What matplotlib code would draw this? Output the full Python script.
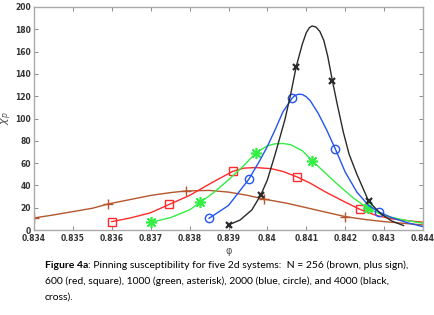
import matplotlib
matplotlib.use("Agg")
import matplotlib.pyplot as plt

# ----------- datos -----------
# N = 256 (marron, +)
x256 = [0.834, 0.8345, 0.835, 0.8355, 0.8359, 0.8365, 0.837, 0.8375, 0.8379, 0.8385,
        0.839, 0.8395, 0.8399, 0.8405, 0.841, 0.8415, 0.842, 0.8425, 0.843, 0.8435, 0.844]
y256 = [10.8, 13.5, 16.5, 19.5, 23.3, 27.5, 31, 33.5, 35, 35.5,
        34, 31, 27.8, 24, 20, 16, 12, 9.5, 7.5, 6, 4.5]
mx256 = [0.834, 0.8359, 0.8379, 0.8399, 0.8420]
my256 = [10.8, 23.3, 35, 27.8, 12]

# N = 600 (rojo, cuadrado)
x600 = [0.836, 0.8365, 0.837, 0.83748, 0.838, 0.8383, 0.8386, 0.83911, 0.8394, 0.8397,
        0.8401, 0.8404, 0.84075, 0.8411, 0.8415, 0.842, 0.84238, 0.8428, 0.8432, 0.8437, 0.844]
y600 = [7.5, 11, 15.5, 23, 31, 37, 43, 52.6, 55.5, 56,
        55, 52.5, 47.8, 42, 34, 25, 18.5, 13, 10, 8, 7]
mx600 = [0.8360, 0.83748, 0.83911, 0.84075, 0.84238]
my600 = [7.5, 23, 52.6, 47.8, 18.5]

# N = 1000 (verde, asterisco)
x1000 = [0.837, 0.8375, 0.838, 0.83828, 0.8386, 0.839, 0.8394, 0.83971, 0.840, 0.8402,
         0.8404, 0.8406, 0.8409, 0.84115, 0.8414, 0.8418, 0.8422, 0.84258, 0.843, 0.8435, 0.844]
y1000 = [6.9, 11, 18, 25, 33, 45, 58, 69.4, 75.5, 77.3,
         77.6, 76.5, 71, 62.2, 54, 41, 29, 19.4, 13, 9, 6]
mx1000 = [0.8370, 0.83828, 0.83971, 0.84115, 0.84258]
my1000 = [6.9, 25, 69.4, 62.2, 19.4]

# N = 2000 (azul, circulo)
x2000 = [0.8385, 0.839, 0.83952, 0.8398, 0.840, 0.8402, 0.8404, 0.84063, 0.8407, 0.8408,
         0.8409, 0.841, 0.8411, 0.8413, 0.84152, 0.84175, 0.842, 0.8423, 0.8426, 0.84288,
         0.8432, 0.8436, 0.844]
y2000 = [10.5, 22, 45.4, 62, 75, 90, 106, 118, 120.5, 121.8,
         121.5, 119.5, 116, 105, 90, 72.4, 52, 34, 22, 16,
         11, 6.5, 3]
mx2000 = [0.8385, 0.83952, 0.84063, 0.84175, 0.84288]
my2000 = [10.5, 45.4, 118, 72.4, 16]

# N = 4000 (negro, cruz)
x4000 = [0.839, 0.8393, 0.8396, 0.83983, 0.8400, 0.8402, 0.84045, 0.8406, 0.84074, 0.8409,
         0.841, 0.84108, 0.84115, 0.84125, 0.84135, 0.84145, 0.84155, 0.84167, 0.8418, 0.84195,
         0.8421, 0.8423, 0.8426, 0.8429, 0.8432, 0.8435]
y4000 = [4.5, 9, 18, 31.4, 45, 68, 99, 122, 146.5, 167,
         177, 181.5, 183, 182, 178, 170, 156, 134, 112, 88,
         68, 50, 26, 15, 8, 4]
mx4000 = [0.8390, 0.83983, 0.84074, 0.84167, 0.8426]
my4000 = [4.5, 31.4, 146.5, 134, 26]

xticks = [0.834, 0.835, 0.836, 0.837, 0.838, 0.839, 0.840, 0.841, 0.842, 0.843, 0.844]
xticklabels = ["0.834", "0.835", "0.836", "0.837", "0.838", "0.839", "0.84",
               "0.841", "0.842", "0.843", "0.844"]
yticks = list(range(0, 201, 20))

caption_bold = "Figure 4a"
caption_rest = [": Pinning susceptibility for five 2d systems:  N = 256 (brown, plus sign),",
                "600 (red, square), 1000 (green, asterisk), 2000 (blue, circle), and 4000 (black,",
                "cross)."]

# ----------- figura -----------
fig = plt.figure(figsize=(4.34, 3.15), dpi=100)
ax = fig.add_axes([34 / 434, 1 - 230 / 315, 389 / 434, 223 / 315])

series = [
    (x256, y256, mx256, my256, "#b5562c", "+", 7, 1.0),
    (x600, y600, mx600, my600, "#ff2a2a", "s", 5.5, 1.0),
    (x1000, y1000, mx1000, my1000, "#33ee44", (8, 2, 0), 8, 1.2),
    (x2000, y2000, mx2000, my2000, "#2255ee", "o", 6, 1.0),
    (x4000, y4000, mx4000, my4000, "#2a2a2a", "x", 5, 1.6),
]
for cx, cy, mx, my, col, mk, ms, mew in series:
    ax.plot(cx, cy, "-", color=col, lw=1.0)
    ax.plot(mx, my, linestyle="none", marker=mk, ms=ms, mew=mew,
            mec=col, mfc="none")

ax.set_xlim(0.834, 0.844)
ax.set_ylim(0, 200)
ax.set_xticks(xticks)
ax.set_xticklabels(xticklabels)
ax.set_yticks(yticks)
ax.tick_params(direction="in", length=3, width=0.6, color="#777777",
               top=True, right=True, labelsize=5.5, labelcolor="#333333")
ax.tick_params(axis="x", pad=3)
ax.tick_params(axis="y", pad=2)
for lab in ax.get_xticklabels() + ax.get_yticklabels():
    lab.set_fontweight("bold")
for s in ax.spines.values():
    s.set_color("#aaaaaa")
    s.set_linewidth(1.0)

ax.set_xlabel("φ", fontsize=7, color="#555555", labelpad=2)
ax.set_ylabel(r"$\chi_p$", fontsize=8, color="#555555", labelpad=1)

# ----------- leyenda de texto -----------
fs = 7.5
y0 = 1 - 265 / 315
t = fig.text(45 / 434, y0, caption_bold, fontsize=fs, fontweight="bold",
             family="Lato", va="center")
fig.canvas.draw()
bb = t.get_window_extent(fig.canvas.get_renderer())
fig.text(bb.x1 / fig.bbox.width, y0, caption_rest[0], fontsize=fs,
         family="Lato", va="center")
fig.text(45 / 434, 1 - 281 / 315, caption_rest[1], fontsize=fs, family="Lato", va="center")
fig.text(45 / 434, 1 - 297 / 315, caption_rest[2], fontsize=fs, family="Lato", va="center")

fig.savefig("out.png", dpi=100)
